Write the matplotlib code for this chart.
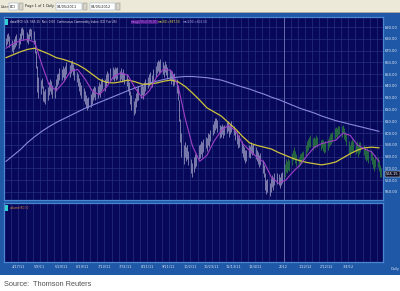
"""Continuous Commodity Index daily chart, Apr 2011 - Apr 2012 (Reuters style)."""
import matplotlib

matplotlib.use("Agg")
import matplotlib.pyplot as plt
import matplotlib.transforms as mtransforms
from matplotlib.patches import Rectangle
import pandas as pd

W, H = 400, 291

# daily bar lows / highs, one row per week (first row starts Tue 4/5/2011)
bar_lows = [
    674, 676, 678, 673,
    670, 668, 671, 673, 675,
    672, 676, 680, 683, 679,
    677, 676, 680, 682, 680,
    676, 668, 655, 635, 630,
    633, 638, 627, 626, 625,
    628, 632, 636, 633, 630,
    630, 636, 640, 642, 645,
    645, 648, 644, 647, 650,
    648, 651, 653, 649, 645,
    643, 640, 636, 632, 630,
    627, 625, 622, 620, 621,
    622, 625, 628, 631, 628,
    630, 633, 631, 636, 637,
    636, 640, 643, 642, 645,
    646, 644, 647, 645, 646,
    644, 646, 643, 645, 642,
    640, 636, 632, 625, 620,
    615, 617, 622, 627, 628,
    630, 632, 629, 633, 636,
    638, 640, 642, 639, 644,
    648, 651, 653, 650, 652,
    650, 648, 652, 649, 646,
    645, 642, 644, 640, 641,
    634, 628, 610, 592, 580,
    574, 580, 576, 578, 573,
    566, 563, 567, 570, 572,
    578, 579, 582, 580, 584,
    587, 585, 590, 588, 593,
    598, 600, 603, 604, 601,
    596, 597, 599, 596, 598,
    600, 602, 597, 599, 601,
    598, 594, 591, 587, 588,
    583, 580, 577, 575, 576,
    580, 579, 583, 581, 582,
    578, 576, 574, 571, 573,
    566, 563, 552, 548, 550,
    547, 550, 554, 552, 556,
    557, 556, 553, 556, 558,
    563, 567, 566, 569, 568,
    573, 577, 578, 575, 572,
    571, 573, 574, 575, 577,
    581, 584, 586, 588, 588,
    586, 588, 587, 590, 588,
    586, 587, 585, 583, 584,
    586, 588, 590, 591, 592,
    595, 597, 596, 598, 599,
    597, 600, 595, 593, 590,
    583, 580, 584, 585, 584,
    582, 584, 580, 582, 584,
    581, 578, 576, 577, 575,
    577, 574, 570, 568, 571,
    571, 568, 563, 563,
]
bar_highs = [
    681, 684, 685, 682,
    679, 676, 680, 682, 684,
    681, 685, 689, 690, 688,
    686, 684, 688, 689, 688,
    687, 679, 670, 657, 648,
    645, 647, 640, 636, 637,
    639, 643, 646, 644, 641,
    640, 646, 650, 651, 655,
    654, 657, 655, 657, 660,
    658, 661, 662, 659, 655,
    652, 650, 647, 643, 641,
    638, 636, 632, 630, 631,
    633, 636, 638, 640, 639,
    640, 643, 642, 646, 647,
    646, 650, 653, 651, 655,
    656, 654, 656, 655, 656,
    653, 655, 652, 654, 651,
    650, 646, 643, 636, 632,
    627, 630, 634, 638, 640,
    640, 642, 640, 643, 646,
    648, 650, 652, 649, 654,
    657, 660, 662, 661, 663,
    660, 658, 661, 659, 656,
    654, 652, 653, 650, 651,
    646, 640, 628, 612, 600,
    590, 592, 588, 590, 585,
    578, 575, 580, 582, 583,
    590, 591, 593, 592, 595,
    597, 596, 600, 599, 603,
    608, 610, 613, 613, 611,
    607, 606, 608, 606, 607,
    609, 610, 607, 608, 610,
    606, 603, 601, 597, 598,
    593, 590, 588, 586, 586,
    590, 589, 592, 590, 591,
    588, 586, 584, 581, 583,
    577, 573, 566, 560, 561,
    558, 562, 564, 563, 566,
    566, 565, 563, 566, 567,
    574, 578, 576, 579, 577,
    583, 586, 588, 585, 582,
    580, 582, 583, 584, 585,
    590, 593, 595, 597, 598,
    596, 597, 596, 598, 597,
    594, 595, 594, 592, 593,
    595, 597, 599, 600, 601,
    604, 605, 604, 606, 606,
    606, 607, 604, 601, 599,
    593, 590, 593, 595, 593,
    591, 593, 590, 592, 592,
    590, 588, 586, 587, 585,
    586, 583, 580, 578, 581,
    580, 577, 573, 570,
]

# moving averages, one value per week from 4/5/2011
ma_short = [
    672, 676, 678.5, 679.5, 677, 658, 641, 636, 643, 652.5, 654, 646, 636,
    632.5, 639, 648, 651, 649, 638, 630, 636, 647.5, 654.5, 653, 640, 612,
    589, 576, 581, 593, 602, 606.5, 602, 591, 585, 579.5, 575, 562.5, 557.5,
    560, 567, 573, 581, 588, 591, 592.5, 594, 600, 598, 590, 586.5, 584, 576,
]
ma_50 = [
    664, 666.5, 669, 671, 672, 669.5, 667, 664, 662.5, 660.5, 658, 654.5, 650,
    645.5, 643, 642.5, 643.5, 645, 643.5, 641.5, 641.5, 642.5, 644, 645, 643.5,
    639.5, 634, 628, 621.5, 618, 614.5, 609, 603.5, 597, 591.5, 589.5, 588,
    586.5, 583.5, 581, 578.5, 576.5, 575, 574, 573, 574, 575.5, 579, 582.5,
    585.5, 587.5, 588, 587.5,
]
ma_200 = [
    576, 581, 586, 592, 597, 601.5, 605.5, 609, 612, 615, 618, 621, 623.5,
    626, 628.5, 631, 633.5, 636, 638.3, 640.5, 642.5, 644, 645.5, 646.8, 647.5,
    648, 648, 647.5, 647, 646, 645, 643, 641, 639, 637.3, 635, 633, 630.5,
    628.5, 626, 623.5, 621, 619, 617, 614.5, 612.5, 610.5, 609, 607.5, 606,
    604.5, 603, 601.5,
]

y_ticks = [550, 560, 570, 580, 590, 600, 610, 620, 630, 640, 650, 660, 670, 680, 690]
x_tick_dates = [
    "2011-04-17", "2011-05-08", "2011-05-29", "2011-06-19", "2011-07-10",
    "2011-07-31", "2011-08-21", "2011-09-11", "2011-10-02", "2011-10-23",
    "2011-11-13", "2011-12-04", "2012-01-01", "2012-01-22", "2012-02-12",
    "2012-03-04",
]
x_tick_labels = [
    "4/17/11", "5/8/11", "5/29/11", "6/19/11", "7/10/11", "7/31/11", "8/21/11",
    "9/11/11", "10/2/11", "10/23/11", "11/13/11", "12/4/11", "2012", "1/22/12",
    "2/12/12", "3/4/12",
]
last_price = 565.15

FRAME = "#1f58a6"
PANE = "#08085a"
GRIDC = "#27307f"
EDGE = "#4a86d0"


def fx(x):
    return x / W


def fy(y):
    return 1 - y / H


days = pd.bdate_range("2011-04-05", "2012-04-05")
n = min(len(days), len(bar_lows), len(bar_highs))
days = days[:n]
ma_days = pd.date_range("2011-04-05", periods=len(ma_short), freq="7D")
year_start = pd.Timestamp("2012-01-01")
bar_colors = ["#2f8f3a" if d >= year_start else "#a8a8cc" for d in days]

fig = plt.figure(figsize=(W / 100, H / 100), dpi=100)
fig.patch.set_facecolor("white")

# toolbar + blue chart frame
fig.add_artist(Rectangle((0, fy(12)), 1, 12 / H, transform=fig.transFigure,
                         fc="#ece9d8", ec="none", zorder=0))
fig.add_artist(Rectangle((0, fy(13)), 1, 1 / H, transform=fig.transFigure,
                         fc="#a8a8a0", ec="none", zorder=0))
fig.add_artist(Rectangle((0, fy(275)), 1, 262 / H, transform=fig.transFigure,
                         fc=FRAME, ec="none", zorder=0))

tb_font = dict(fontsize=2.5, color="#202020", va="center", family="DejaVu Sans")
fig.text(fx(1), fy(6.5), "User:", **tb_font)
for x0, x1, label in [(9, 18, "BCI"), (56, 82, "04/05/2011"), (90, 115, "04/05/2012")]:
    fig.add_artist(Rectangle((fx(x0), fy(10)), (x1 - x0) / W, 7 / H,
                             transform=fig.transFigure, fc="white", ec="#7f9db9", lw=0.3))
    fig.text(fx(x0 + 1), fy(6.5), label, **tb_font)
for x0 in (18.5, 82.5, 115.5):
    fig.add_artist(Rectangle((fx(x0), fy(10)), 4.5 / W, 7 / H,
                             transform=fig.transFigure, fc="#d8d4c8", ec="#808080", lw=0.3))
fig.text(fx(25), fy(6.5), "Page 1 of 1", **tb_font)
fig.text(fx(45.5), fy(6.5), "Daily", **tb_font)

# main price pane
ax = fig.add_axes([fx(4), fy(200), 379 / W, 183 / H])
ax.set_facecolor(PANE)
ax.vlines(days, bar_lows[:n], bar_highs[:n], colors=bar_colors, linewidth=0.5, zorder=3)
ax.plot(ma_days, ma_200, color="#8a88e0", lw=0.8, zorder=4)
ax.plot(ma_days, ma_50, color="#cdc23c", lw=0.9, zorder=4)
ax.plot(ma_days, ma_short, color="#a040c8", lw=0.8, zorder=4)

# volume pane (empty)
axv = fig.add_axes([fx(4), fy(262), 379 / W, 59 / H])
axv.set_facecolor(PANE)
axv.set_ylim(0, 1)
axv.set_yticks([])

week_lines = pd.date_range("2011-04-10", "2012-04-07", freq="7D")
tick_pos = pd.to_datetime(x_tick_dates)
for a in (ax, axv):
    a.set_xlim(pd.Timestamp("2011-04-03"), pd.Timestamp("2012-04-07"))
    a.set_xticks(week_lines, minor=True)
    a.set_xticks(tick_pos)
    a.grid(True, axis="x", which="both", color=GRIDC, lw=0.5)
    a.axvline(year_start, color="#6f78b0", lw=0.6, zorder=2)
    a.tick_params(which="both", length=0)
    for s in a.spines.values():
        s.set_color(EDGE)
        s.set_linewidth(0.9)

ax.set_ylim(543.2, 698.5)
ax.set_yticks(y_ticks)
ax.set_yticklabels([f"{v:.2f}" for v in y_ticks])
ax.yaxis.tick_right()
ax.tick_params(axis="y", labelsize=2.6, labelcolor="#e8ecf8", pad=1.5)
ax.grid(True, axis="y", color=GRIDC, lw=0.5)
ax.set_axisbelow(True)
ax.set_xticklabels([])

axv.set_xticklabels(x_tick_labels)
axv.tick_params(axis="x", labelsize=2.5, labelcolor="#dce4f4", pad=2.5)

# last price flag on the right scale
flag_tr = mtransforms.blended_transform_factory(ax.transAxes, ax.transData)
ax.text(1.008, last_price, f"{last_price:.2f}", transform=flag_tr, fontsize=2.6,
        color="white", va="center", ha="left", clip_on=False,
        bbox=dict(fc="#101028", ec="white", lw=0.3, pad=0.6))

# legend line across the top of the price pane
leg = dict(fontsize=2.1, va="center", ha="left", family="DejaVu Sans")
fig.add_artist(Rectangle((fx(5), fy(25)), 3 / W, 6 / H, transform=fig.transFigure,
                         fc="#30d0d0", ec="none"))
fig.text(fx(9.5), fy(22), "data(BCI) US: 565.15  Net: 0.00  Continuous Commodity Index (ICE Fut US)",
         color="#e0e0f0", **leg)
fig.text(fx(131), fy(22), f"mavg(20)={ma_short[-1]:.2f}", color="#c070f0",
         bbox=dict(fc="#4a1888", ec="none", pad=0.2), **leg)
fig.text(fx(158), fy(22), f"ma(50)={ma_50[-1]:.2f}", color="#e8e040", **leg)
fig.text(fx(183), fy(22), f"ma(200)={ma_200[-1]:.2f}", color="#a8a8f0", **leg)

fig.add_artist(Rectangle((fx(5), fy(211)), 3 / W, 6 / H, transform=fig.transFigure,
                         fc="#30d0d0", ec="none"))
fig.text(fx(9.5), fy(208), "volume(BCI)0", color="#e08a3a", **leg)

fig.text(fx(391), fy(269), "Daily", fontsize=2.5, color="#dce4f4", va="center")

fig.text(fx(4), fy(284), "Source:  Thomson Reuters", fontsize=5.3, color="#505050",
         va="center", family="Liberation Sans")

fig.savefig("out.png", dpi=100, facecolor=fig.get_facecolor())
